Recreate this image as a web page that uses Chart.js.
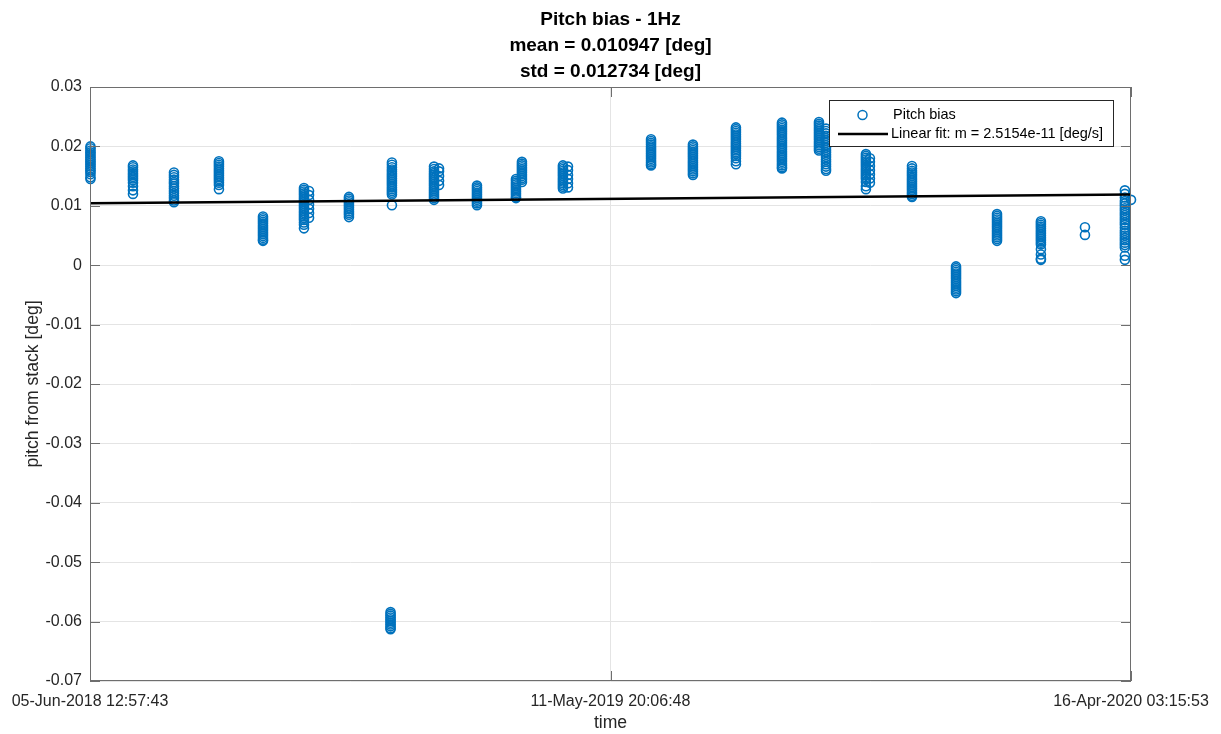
<!DOCTYPE html>
<html>
<head>
<meta charset="utf-8">
<title>Pitch bias - 1Hz</title>
<script src="https://cdn.jsdelivr.net/npm/chart.js@4.4.1/dist/chart.umd.min.js"></script>
<style>
  html, body { margin: 0; padding: 0; background: #ffffff; }
  #wrap { width: 1221px; height: 734px; position: relative; }
</style>
</head>
<body>
<div id="wrap"><canvas id="chart" width="1221" height="734"></canvas></div>
<script>
// ---- data -------------------------------------------------------------
const titleLines = ['Pitch bias - 1Hz', 'mean = 0.010947 [deg]', 'std = 0.012734 [deg]'];
const xTitle = 'time';
const yTitle = 'pitch from stack [deg]';
const seriesLabel = 'Pitch bias';
const fitLabel = 'Linear fit: m = 2.5154e-11 [deg/s]';

const xTickLabels = ['05-Jun-2018 12:57:43', '11-May-2019 20:06:48', '16-Apr-2020 03:15:53'];
const yTicks = [0.03, 0.02, 0.01, 0, -0.01, -0.02, -0.03, -0.04, -0.05, -0.06, -0.07];

// acquisition sessions: days after the first stack
const clusterDays = [
  0.3, 28.1, 54.9, 84.3, 113.1, 139.9, 143.2, 169.3, 196.5, 197.4,
  224.9, 228.2, 253.0, 278.5, 282.4, 309.2, 312.5, 366.8, 394.2, 422.3,
  452.4, 476.6, 481.2, 507.3, 509.9, 537.4, 566.2, 593.0, 621.7, 650.5,
  676.6, 680.6
];

// pitch bias per session [deg]
const clusterValues = [
  [0.0200,0.0197,0.0193,0.0190,0.0187,0.0184,0.0181,0.0178,0.0175,0.0172,0.0169,0.0166,0.0163,0.0160,0.0157,0.0153,0.0148,0.0145],
  [0.0168,0.0165,0.0161,0.0158,0.0155,0.0152,0.0149,0.0146,0.0143,0.0139,0.0133,0.0126,0.0120],
  [0.0156,0.0152,0.0148,0.0144,0.0140,0.0137,0.0133,0.0129,0.0125,0.0121,0.0117,0.0113,0.0109,0.0106],
  [0.0175,0.0172,0.0169,0.0166,0.0163,0.0160,0.0157,0.0154,0.0151,0.0148,0.0145,0.0142,0.0139,0.0135,0.0128],
  [0.0082,0.0079,0.0076,0.0073,0.0070,0.0067,0.0064,0.0061,0.0058,0.0055,0.0052,0.0049,0.0046,0.0043,0.0041],
  [0.0130,0.0127,0.0124,0.0121,0.0118,0.0115,0.0112,0.0109,0.0106,0.0103,0.0100,0.0097,0.0094,0.0091,0.0088,0.0085,0.0082,0.0079,0.0076,0.0072,0.0068,0.0062],
  [0.0125,0.0118,0.0110,0.0102,0.0095,0.0088,0.0080],
  [0.0115,0.0112,0.0109,0.0106,0.0103,0.0100,0.0097,0.0094,0.0091,0.0088,0.0085,0.0081],
  [-0.0584,-0.0587,-0.0590,-0.0593,-0.0596,-0.0599,-0.0602,-0.0605,-0.0608,-0.0611,-0.0613],
  [0.0173,0.0169,0.0165,0.0161,0.0158,0.0155,0.0152,0.0149,0.0146,0.0143,0.0140,0.0137,0.0134,0.0131,0.0128,0.0125,0.0122,0.0119,0.0101],
  [0.0166,0.0162,0.0158,0.0155,0.0152,0.0149,0.0146,0.0143,0.0140,0.0137,0.0134,0.0131,0.0128,0.0125,0.0122,0.0119,0.0116,0.0113,0.0110],
  [0.0163,0.0158,0.0150,0.0142,0.0135],
  [0.0134,0.0131,0.0128,0.0125,0.0122,0.0119,0.0116,0.0113,0.0110,0.0107,0.0104,0.0101],
  [0.0145,0.0142,0.0139,0.0136,0.0133,0.0130,0.0127,0.0124,0.0121,0.0118,0.0115,0.0113],
  [0.0174,0.0171,0.0168,0.0165,0.0162,0.0159,0.0156,0.0153,0.0150,0.0147,0.0144,0.0140],
  [0.0168,0.0165,0.0162,0.0159,0.0156,0.0153,0.0150,0.0147,0.0144,0.0141,0.0138,0.0135,0.0132,0.0129],
  [0.0166,0.0160,0.0152,0.0145,0.0138,0.0131],
  [0.0212,0.0209,0.0206,0.0203,0.0200,0.0197,0.0194,0.0191,0.0188,0.0185,0.0182,0.0179,0.0176,0.0173,0.0170,0.0168],
  [0.0203,0.0200,0.0197,0.0194,0.0191,0.0188,0.0185,0.0182,0.0179,0.0176,0.0173,0.0170,0.0167,0.0164,0.0161,0.0158,0.0155,0.0152],
  [0.0232,0.0229,0.0226,0.0223,0.0220,0.0217,0.0214,0.0211,0.0208,0.0205,0.0202,0.0199,0.0196,0.0193,0.0190,0.0187,0.0184,0.0180,0.0175,0.0170],
  [0.0240,0.0237,0.0234,0.0231,0.0228,0.0225,0.0222,0.0219,0.0216,0.0213,0.0210,0.0207,0.0204,0.0201,0.0198,0.0195,0.0192,0.0189,0.0186,0.0183,0.0180,0.0177,0.0174,0.0171,0.0168,0.0165,0.0163],
  [0.0241,0.0238,0.0235,0.0232,0.0229,0.0226,0.0223,0.0220,0.0217,0.0214,0.0211,0.0208,0.0205,0.0202,0.0199,0.0196,0.0193],
  [0.0230,0.0226,0.0222,0.0218,0.0214,0.0210,0.0206,0.0202,0.0198,0.0194,0.0190,0.0186,0.0182,0.0178,0.0174,0.0170,0.0166,0.0162,0.0159],
  [0.0187,0.0184,0.0181,0.0178,0.0175,0.0172,0.0169,0.0166,0.0163,0.0160,0.0157,0.0154,0.0151,0.0148,0.0145,0.0140,0.0133,0.0128],
  [0.0180,0.0174,0.0167,0.0160,0.0153,0.0146,0.0139],
  [0.0167,0.0163,0.0159,0.0156,0.0153,0.0150,0.0147,0.0144,0.0141,0.0138,0.0135,0.0132,0.0129,0.0126,0.0123,0.0120,0.0117,0.0115],
  [-0.0002,-0.0005,-0.0008,-0.0011,-0.0014,-0.0017,-0.0020,-0.0023,-0.0026,-0.0029,-0.0032,-0.0035,-0.0038,-0.0041,-0.0044,-0.0047],
  [0.0086,0.0083,0.0080,0.0077,0.0074,0.0071,0.0068,0.0065,0.0062,0.0059,0.0056,0.0053,0.0050,0.0047,0.0044,0.0041],
  [0.0074,0.0071,0.0068,0.0065,0.0062,0.0059,0.0056,0.0053,0.0050,0.0047,0.0044,0.0041,0.0038,0.0035,0.0027,0.0018,0.0011,0.0009],
  [0.0064,0.0051],
  [0.0126,0.0120,0.0114,0.0108,0.0104,0.0100,0.0096,0.0092,0.0088,0.0084,0.0080,0.0076,0.0072,0.0068,0.0063,0.0058,0.0054,0.0050,0.0046,0.0042,0.0038,0.0034,0.0030,0.0016,0.0009],
  [0.0110,0.0104,0.0098,0.0092,0.0086,0.0080,0.0074,0.0068,0.0062,0.0056,0.0050,0.0044,0.0038]
];

// linear fit evaluated at the first and last time stamp [deg]
const fitValues = [0.01043, 0.01191];

// ---- helpers ----------------------------------------------------------
const MONTHS = {Jan:0, Feb:1, Mar:2, Apr:3, May:4, Jun:5, Jul:6, Aug:7, Sep:8, Oct:9, Nov:10, Dec:11};
function parseStamp(s) {
  const m = s.match(/(\d+)-(\w+)-(\d+) (\d+):(\d+):(\d+)/);
  return Date.UTC(+m[3], MONTHS[m[2]], +m[1], +m[4], +m[5], +m[6]);
}
const DAY = 86400000;
const xTickTimes = xTickLabels.map(parseStamp);
const tStart = xTickTimes[0];
const tEnd = xTickTimes[xTickTimes.length - 1];

const points = [];
clusterDays.forEach((d, i) => {
  clusterValues[i].forEach(v => points.push({ x: tStart + d * DAY, y: v }));
});
const fitPoints = [{ x: tStart, y: fitValues[0] }, { x: tEnd, y: fitValues[1] }];

const FONT = "'Liberation Sans', Arial, Helvetica, sans-serif";
const BLUE = '#0072BD';
const AXIS = '#262626';
const GRID = '#e4e4e4';
const BOX = '#6e6e6e';
const TICK_LEN = 10;

// ---- box, inward ticks and legend ----------------------------------------
const frame = {
  id: 'frame',
  afterDraw(chart) {
    const { ctx, chartArea: a, scales } = chart;
    ctx.save();
    ctx.strokeStyle = BOX;
    ctx.lineWidth = 1;
    ctx.strokeRect(Math.round(a.left) + 0.5, Math.round(a.top) + 0.5,
                   Math.round(a.right - a.left) - 1, Math.round(a.bottom - a.top) - 1);
    ctx.beginPath();
    yTicks.forEach(v => {
      const y = Math.round(scales.y.getPixelForValue(v)) + 0.5;
      ctx.moveTo(a.left, y); ctx.lineTo(a.left + TICK_LEN, y);
      ctx.moveTo(a.right, y); ctx.lineTo(a.right - TICK_LEN, y);
    });
    xTickTimes.forEach(t => {
      const x = Math.round(scales.x.getPixelForValue(t)) + 0.5;
      ctx.moveTo(x, a.bottom); ctx.lineTo(x, a.bottom - TICK_LEN);
      ctx.moveTo(x, a.top); ctx.lineTo(x, a.top + TICK_LEN);
    });
    ctx.stroke();

    // legend
    const lx = 829.5, ly = 100.5, lw = 284, lh = 46;
    ctx.fillStyle = '#ffffff';
    ctx.fillRect(lx, ly, lw, lh);
    ctx.strokeStyle = AXIS;
    ctx.strokeRect(lx, ly, lw, lh);
    const r1 = 115, r2 = 134;
    ctx.strokeStyle = BLUE;
    ctx.lineWidth = 1.5;
    ctx.beginPath();
    ctx.arc(862.5, r1, 4.5, 0, Math.PI * 2);
    ctx.stroke();
    ctx.strokeStyle = '#000000';
    ctx.lineWidth = 2.5;
    ctx.beginPath();
    ctx.moveTo(838, r2); ctx.lineTo(888, r2);
    ctx.stroke();
    ctx.fillStyle = '#000000';
    ctx.font = '14.5px ' + FONT;
    ctx.textBaseline = 'middle';
    ctx.textAlign = 'left';
    ctx.fillText(chart.data.datasets[1].label, 893, r1);
    ctx.fillText(chart.data.datasets[0].label, 891, r2);
    ctx.restore();
  }
};

// ---- chart -----------------------------------------------------------
new Chart(document.getElementById('chart'), {
  type: 'scatter',
  data: {
    datasets: [
      {
        type: 'line',
        label: fitLabel,
        data: fitPoints,
        borderColor: '#000000',
        borderWidth: 2.5,
        pointRadius: 0,
        fill: false,
        order: 0
      },
      {
        label: seriesLabel,
        data: points,
        showLine: false,
        pointStyle: 'circle',
        pointRadius: 4.5,
        pointBorderWidth: 1.6,
        borderColor: BLUE,
        backgroundColor: 'rgba(0,0,0,0)',
        pointBackgroundColor: 'rgba(0,0,0,0)',
        clip: false,
        order: 1
      }
    ]
  },
  options: {
    responsive: false,
    animation: false,
    events: [],
    layout: { padding: 0 },
    plugins: {
      legend: { display: false },
      tooltip: { enabled: false },
      title: {
        display: true,
        text: titleLines,
        color: '#000000',
        font: { family: FONT, size: 19, weight: 'bold', lineHeight: '26px' },
        padding: { top: 7, bottom: 2 }
      }
    },
    scales: {
      x: {
        type: 'linear',
        min: tStart,
        max: tEnd,
        afterBuildTicks: s => { s.ticks = xTickTimes.map(v => ({ value: v })); },
        afterFit: s => { s.height = 53; },
        ticks: {
          autoSkip: false,
          maxRotation: 0,
          padding: 11,
          color: AXIS,
          font: { family: FONT, size: 16 },
          callback: (v, i) => xTickLabels[i]
        },
        grid: {
          drawTicks: false,
          color: ctx => (ctx.index === 0 || ctx.index === xTickTimes.length - 1) ? 'rgba(0,0,0,0)' : GRID
        },
        border: { display: false },
        title: {
          display: true,
          text: xTitle,
          color: AXIS,
          font: { family: FONT, size: 17.6 },
          padding: { top: 2, bottom: 0 }
        }
      },
      y: {
        min: -0.07,
        max: 0.03,
        afterBuildTicks: s => { s.ticks = yTicks.map(v => ({ value: v })); },
        afterFit: s => { s.width = 90; },
        ticks: {
          padding: 8,
          color: AXIS,
          font: { family: FONT, size: 16 },
          callback: v => String(Number(v.toFixed(2)))
        },
        grid: { drawTicks: false, color: GRID },
        border: { display: false },
        title: {
          display: true,
          text: yTitle,
          color: AXIS,
          font: { family: FONT, size: 17.6 },
          padding: { top: 23, bottom: 4 }
        }
      },
      yR: {
        position: 'right',
        min: 0,
        max: 1,
        afterFit: s => { s.width = 90; },
        ticks: { display: false },
        grid: { display: false },
        border: { display: false }
      }
    }
  },
  plugins: [frame]
});
</script>
</body>
</html>
